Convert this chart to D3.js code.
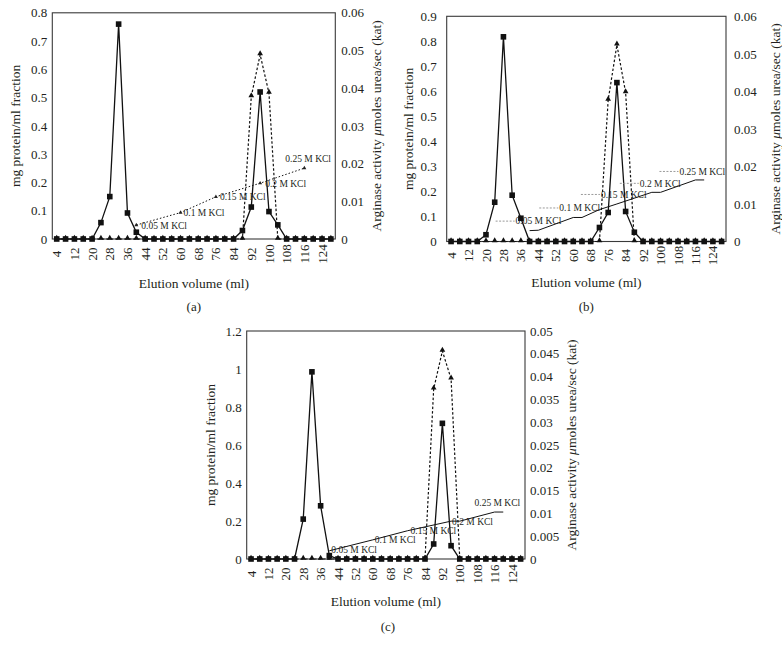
<!DOCTYPE html>
<html>
<head>
<meta charset="utf-8">
<script src="https://cdn.jsdelivr.net/npm/d3@7"></script>
<style>
  body { margin: 0; background: #fff; }
  svg text { font-family: 'Liberation Serif', 'DejaVu Serif', serif; fill: #231f20; }
</style>
</head>
<body>
<svg id="chart" width="782" height="654"></svg>
<script>
// elution volume (ml), one fraction every 4 ml
const volumes = [4, 8, 12, 16, 20, 24, 28, 32, 36, 40, 44, 48, 52, 56, 60, 64,
  68, 72, 76, 80, 84, 88, 92, 96, 100, 104, 108, 112, 116, 120, 124, 128]
const volumeLabels = [4, 12, 20, 28, 36, 44, 52, 60, 68, 76, 84, 92, 100, 108, 116, 124]

const kclLabels = ['0.05 M KCl', '0.1 M KCl', '0.15 M KCl', '0.2 M KCl', '0.25 M KCl']

// panel (a)
const proteinA = [0, 0, 0, 0, 0, 0.058, 0.15, 0.76, 0.092, 0.024, 0, 0, 0, 0, 0, 0,
  0, 0, 0, 0, 0, 0.03, 0.113, 0.52, 0.097, 0.05, 0, 0, 0, 0, 0, 0]
const activityA = [0, 0, 0, 0, 0, 0, 0, 0, 0, 0, 0, 0, 0, 0, 0, 0,
  0, 0, 0, 0, 0, 0, 0.0378, 0.0489, 0.0387, 0, 0, 0, 0, 0, 0, 0]
const kclVolA = [40, 60, 76, 96, 116]
const kclValA = [0.0037, 0.007, 0.0112, 0.0148, 0.0188]
const kclLabelVolA = [40, 60, 76, 96, 116]
const leftTicksA = [0, 0.1, 0.2, 0.3, 0.4, 0.5, 0.6, 0.7, 0.8]
const rightTicksA = [0, 0.01, 0.02, 0.03, 0.04, 0.05, 0.06]

// panel (b)
const proteinB = [0, 0, 0, 0, 0.027, 0.157, 0.818, 0.185, 0.093, 0, 0, 0, 0, 0, 0, 0,
  0, 0.056, 0.116, 0.635, 0.12, 0.037, 0, 0, 0, 0, 0, 0, 0, 0, 0, 0]
const activityB = [0, 0, 0, 0, 0, 0, 0, 0, 0, 0, 0, 0, 0, 0, 0, 0,
  0, 0, 0.0377, 0.0524, 0.0397, 0, 0, 0, 0, 0, 0, 0, 0, 0, 0, 0]
const kclVolB = [40, 44, 60, 64, 72, 80, 96, 100, 116, 120]
const kclValB = [0.0029, 0.003, 0.0064, 0.0064, 0.0085, 0.01, 0.0131, 0.0131, 0.0164, 0.0164]
const kclLabelVolB = [40, 60, 80, 96, 116]
const leftTicksB = [0, 0.1, 0.2, 0.3, 0.4, 0.5, 0.6, 0.7, 0.8, 0.9]
const rightTicksB = [0, 0.01, 0.02, 0.03, 0.04, 0.05, 0.06]

// panel (c)
const proteinC = [0, 0, 0, 0, 0, 0, 0.21, 0.985, 0.28, 0.018, 0, 0, 0, 0, 0, 0,
  0, 0, 0, 0, 0, 0.079, 0.714, 0.07, 0, 0, 0, 0, 0, 0, 0, 0]
const activityC = [0, 0, 0, 0, 0, 0, 0, 0, 0, 0, 0, 0, 0, 0, 0, 0,
  0, 0, 0, 0, 0, 0.0373, 0.0456, 0.0395, 0, 0, 0, 0, 0, 0, 0, 0]
const kclVolC = [40, 60, 76, 96, 100, 116, 120]
const kclValC = [0.0018, 0.0042, 0.0062, 0.0083, 0.0083, 0.0103, 0.0103]
const kclLabelVolC = [40, 60, 76, 96, 116]
const leftTicksC = [0, 0.2, 0.4, 0.6, 0.8, 1, 1.2]
const rightTicksC = [0, 0.005, 0.01, 0.015, 0.02, 0.025, 0.03, 0.035, 0.04, 0.045, 0.05]

const svg = d3.select('#chart')
const fmt = d3.format('~g')

const panels = [
  {
    tag: '(a)', left: 52.3, right: 335.3, top: 12.8, bottom: 239,
    protein: proteinA, activity: activityA, leftTicks: leftTicksA, rightTicks: rightTicksA,
    kclVol: kclVolA, kclVal: kclValA, kclLabelVol: kclLabelVolA, kclStyle: 'dotted',
    labelOffsets: [[5, 1], [3, 0], [4, 0], [5, 0.5], [-19, -9]],
    leftGap: 5, rightGap: 6, leftTitleX: 15, rightTitleX: 376.7,
    xLabelDy: 15, xTitleY: 287.5, tagY: 311
  },
  {
    tag: '(b)', left: 446.7, right: 726, top: 16.3, bottom: 241.5,
    protein: proteinB, activity: activityB, leftTicks: leftTicksB, rightTicks: rightTicksB,
    kclVol: kclVolB, kclVal: kclValB, kclLabelVol: kclLabelVolB, kclStyle: 'leader',
    labelOffsets: [[-14, -9.5], [-14, -9.5], [-16, -9.5], [-12, -9], [-16, -8.5]],
    leftGap: 10, rightGap: 8, leftTitleX: 408.3, rightTitleX: 775,
    xLabelDy: 14, xTitleY: 286.5, tagY: 311
  },
  {
    tag: '(c)', left: 246.7, right: 525, top: 331, bottom: 559,
    protein: proteinC, activity: activityC, leftTicks: leftTicksC, rightTicks: rightTicksC,
    kclVol: kclVolC, kclVal: kclValC, kclLabelVol: kclLabelVolC, kclStyle: 'solid',
    labelOffsets: [[2, -1], [2, 0], [3, 0], [1, 0.5], [-20, -9]],
    leftGap: 5, rightGap: 5, leftTitleX: 210, rightTitleX: 571.7,
    xLabelDy: 15, xTitleY: 606, tagY: 631
  }
]

panels.forEach(drawPanel)

function drawPanel(p) {
  const g = svg.append('g')
  const x = d3.scaleBand().domain(volumes).range([p.left, p.right])
  const cx = v => x(v) + x.bandwidth() / 2
  const yL = d3.scaleLinear().domain([0, d3.max(p.leftTicks)]).range([p.bottom, p.top])
  const yR = d3.scaleLinear().domain([0, d3.max(p.rightTicks)]).range([p.bottom, p.top])
  const midX = (p.left + p.right) / 2
  const midY = (p.top + p.bottom) / 2

  // plot frame
  g.append('rect')
    .attr('x', p.left).attr('y', p.top)
    .attr('width', p.right - p.left).attr('height', p.bottom - p.top)
    .attr('fill', 'none').attr('stroke', '#3a3a3a').attr('stroke-width', 1.1)

  // value axes (no tick marks)
  g.append('g')
    .attr('transform', `translate(${p.left},0)`)
    .call(d3.axisLeft(yL).tickValues(p.leftTicks).tickSize(0).tickPadding(p.leftGap).tickFormat(fmt))
    .attr('font-size', 13).attr('font-family', null)
    .call(s => s.select('.domain').remove())

  g.append('g')
    .attr('transform', `translate(${p.right},0)`)
    .call(d3.axisRight(yR).tickValues(p.rightTicks).tickSize(0).tickPadding(p.rightGap).tickFormat(fmt))
    .attr('font-size', 13).attr('font-family', null)
    .call(s => s.select('.domain').remove())

  // category axis, labels rotated
  const xa = g.append('g')
    .attr('transform', `translate(0,${p.bottom})`)
    .call(d3.axisBottom(x).tickValues(volumeLabels).tickSize(0))
    .attr('font-size', 13).attr('font-family', null)
  xa.select('.domain').remove()
  xa.selectAll('text')
    .attr('y', 0).attr('dy', '0.35em')
    .attr('text-anchor', 'middle')
    .attr('transform', `translate(0,${p.xLabelDy}) rotate(-90)`)

  // KCl gradient
  const kclPts = p.kclVol.map((v, i) => [cx(v), yR(p.kclVal[i])])
  g.append('path')
    .attr('d', d3.line()(kclPts))
    .attr('fill', 'none')
    .attr('stroke', '#111')
    .attr('stroke-width', 1)
    .attr('stroke-dasharray', p.kclStyle === 'dotted' ? '1.5,2' : null)

  // activity (dotted, triangles)
  const actLine = d3.line().x((d, i) => cx(volumes[i])).y(d => yR(d))
  g.append('path')
    .attr('d', actLine(p.activity))
    .attr('fill', 'none').attr('stroke', '#111')
    .attr('stroke-width', 1.2).attr('stroke-dasharray', '2.5,2')

  // protein (solid, squares)
  const protLine = d3.line().x((d, i) => cx(volumes[i])).y(d => yL(d))
  g.append('path')
    .attr('d', protLine(p.protein))
    .attr('fill', 'none').attr('stroke', '#111').attr('stroke-width', 1.3)

  g.append('g').selectAll('path')
    .data(p.activity)
    .join('path')
    .attr('transform', (d, i) => `translate(${cx(volumes[i])},${yR(d) - 1})`)
    .attr('d', d3.symbol(d3.symbolTriangle, 14))
    .attr('fill', '#111')

  g.append('g').selectAll('rect')
    .data(p.protein)
    .join('rect')
    .attr('x', (d, i) => cx(volumes[i]) - 2.8)
    .attr('y', d => yL(d) - 2.8)
    .attr('width', 5.6).attr('height', 5.6)
    .attr('fill', '#111')

  // KCl labels
  p.kclLabelVol.forEach((v, i) => {
    const k = p.kclVol.indexOf(v)
    const px = cx(v), py = yR(p.kclVal[k])
    const [dx, dy] = p.labelOffsets[i]
    if (p.kclStyle === 'dotted') {
      g.append('path')
        .attr('transform', `translate(${px},${py})`)
        .attr('d', d3.symbol(d3.symbolTriangle, 7))
        .attr('fill', '#222')
    }
    if (p.kclStyle === 'leader') {
      g.append('line')
        .attr('x1', px + dx - 20).attr('x2', px + dx - 1)
        .attr('y1', py + dy).attr('y2', py + dy)
        .attr('stroke', '#999').attr('stroke-width', 1).attr('stroke-dasharray', '2,1.5')
    }
    g.append('text')
      .attr('x', px + dx).attr('y', py + dy)
      .attr('dy', '0.35em')
      .attr('font-size', 9.5)
      .text(kclLabels[i])
  })

  // axis titles
  g.append('text')
    .attr('transform', `translate(${p.leftTitleX},${midY}) rotate(-90)`)
    .attr('text-anchor', 'middle').attr('dy', '0.35em')
    .attr('font-size', 13.5)
    .text('mg protein/ml fraction')

  const rt = g.append('text')
    .attr('transform', `translate(${p.rightTitleX},${midY}) rotate(-90)`)
    .attr('text-anchor', 'middle').attr('dy', '0.35em')
    .attr('font-size', 13.5)
  rt.append('tspan').text('Arginase activity ')
  rt.append('tspan').attr('font-style', 'italic').text('\u03bc')
  rt.append('tspan').text('moles urea/sec (kat)')

  g.append('text')
    .attr('x', midX).attr('y', p.xTitleY)
    .attr('text-anchor', 'middle').attr('font-size', 13.5)
    .text('Elution volume (ml)')

  g.append('text')
    .attr('x', midX + (p.tag === '(c)' ? 2 : 0)).attr('y', p.tagY)
    .attr('text-anchor', 'middle').attr('font-size', 13)
    .text(p.tag)
}
</script>
</body>
</html>
